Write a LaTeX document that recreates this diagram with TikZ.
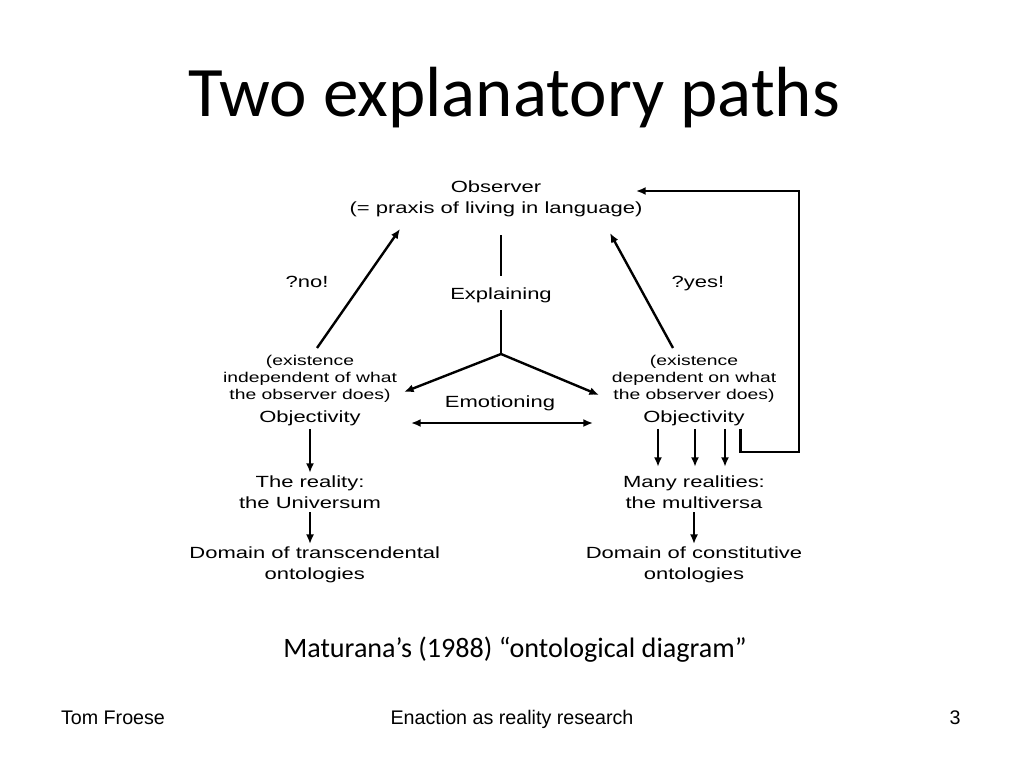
\documentclass[tikz,border=0pt]{standalone}
\usepackage{fontspec}
\setmainfont{Liberation Sans}
\newfontfamily\diagfont[FakeStretch=1.36]{Liberation Sans}
\newfontfamily\slidefont{Carlito}
\usetikzlibrary{positioning}
\usetikzlibrary{arrows.meta}

\begin{document}
\begin{tikzpicture}[x=0.025cm,y=-0.025cm,
  txt/.style={font=\diagfont\fontsize{11.5pt}{15pt}\selectfont,align=center,inner sep=2pt},
  small/.style={font=\diagfont\fontsize{10.1pt}{12pt}\selectfont,align=center,inner sep=2pt},
  ln/.style={line width=1.7pt},
  arr/.style={line width=1.7pt,-{Latex[length=0.24cm,width=0.2cm]}},
  darr/.style={line width=1.7pt,{Latex[length=0.24cm,width=0.2cm]}-{Latex[length=0.24cm,width=0.2cm]}}]
\useasboundingbox (0,0) rectangle (1024,768);
\node[font=\slidefont\fontsize{50.5pt}{60pt}\selectfont,anchor=base](title) at (514,117){Two explanatory paths};
\node[txt](obs) at (496,199){Observer\\(= praxis of living in language)};
\node[txt](expl) at (501,295){Explaining};
\node[txt](emot) at (500,403){Emotioning};
\node[txt,anchor=base](no) at (307,287){?no!};
\node[txt,anchor=base](yes) at (698,287){?yes!};
\node[small](exL) at (310,379){(existence\\independent of what\\the observer does)};
\node[txt, below=0.05cm of exL](objL){Objectivity};
\node[txt, below=1.1cm of objL](realL){The reality:\\the Universum};
\node[txt, below=0.8cm of realL, xshift=0.12cm](domL){Domain of transcendental\\ontologies};
\node[small](exR) at (694,379){(existence\\dependent on what\\the observer does)};
\node[txt, below=0.05cm of exR](objR){Objectivity};
\node[txt, below=1.1cm of objR](realR){Many realities:\\the multiversa};
\node[txt, below=0.8cm of realR](domR){Domain of constitutive\\ontologies};
\coordinate (j) at (501,354);
\coordinate (jl) at (404,392);
\coordinate (jr) at (599,395);
\coordinate (eL) at (411,423);
\coordinate (eR) at (593,423);
\coordinate (noT) at (317,348);
\coordinate (noH) at (400,229);
\coordinate (yesT) at (673,348);
\coordinate (yesH) at (610,233);
\coordinate (fbB) at (799,452);
\coordinate (fbT) at (636,191);
\path (obs.south -| expl) edge[ln, shorten <=0.38cm, shorten >=0.2cm] (expl.north);
\path (expl.south) edge[ln, shorten <=0.12cm] (j);
\path (j) edge[arr] (jl);
\path (j) edge[arr] (jr);
\path (eL) edge[darr] (eR);
\path (noT) edge[arr] (noH);
\path (yesT) edge[arr] (yesH);
\path (objL) edge[arr] (realL);
\path (realL) edge[arr] (realL |- domL.north);
\foreach \dx in {-36,1,31}
  \path ([xshift=\dx*0.025cm]objR.south) edge[arr, shorten >=0.15cm] ([xshift=\dx*0.025cm]objR.south |- realR.north);
\path (realR) edge[arr] (domR);
\draw[arr] ([xshift=-0.18cm]objR.south east) |- (fbB) |- (fbT);
\node[font=\slidefont\fontsize{20pt}{24pt}\selectfont,anchor=base](cap) at (515,657){Maturana’s (1988) “ontological diagram”};
\node[font=\fontsize{14pt}{17pt}\selectfont,anchor=base](author) at (113,724){Tom Froese};
\node[font=\fontsize{14pt}{17pt}\selectfont,anchor=base](topic) at (512,724){Enaction as reality research};
\node[font=\fontsize{14pt}{17pt}\selectfont,anchor=base](page) at (955,724){3};
\end{tikzpicture}
\end{document}
